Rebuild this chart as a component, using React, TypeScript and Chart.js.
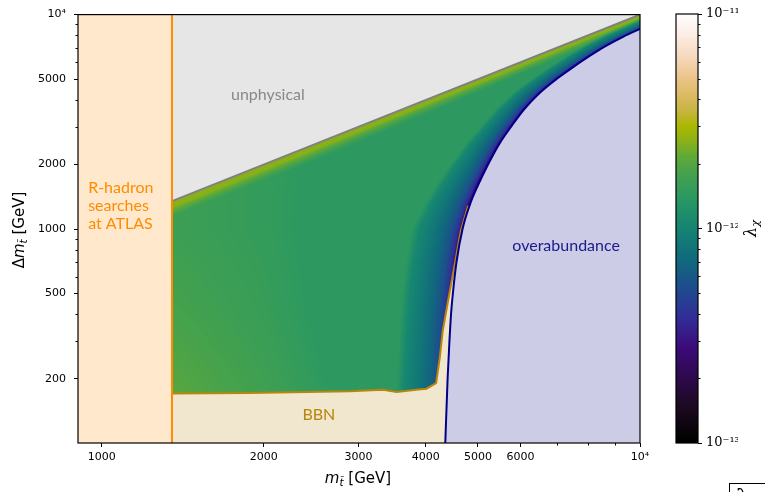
import React, { useEffect, useRef } from 'react';
import { Chart, registerables } from 'chart.js';

Chart.register(...registerables);

// ---------- axis ranges & ticks ----------
const X_MIN = 903;
const X_MAX = 10000;
const Y_MIN = 100.5;
const Y_MAX = 10000;
const LAMBDA_MIN = 1e-13;
const LAMBDA_MAX = 1e-11;

const xMajorTicks = [1000, 2000, 3000, 4000, 5000, 6000, 10000];
const xMinorTicks = [7000, 8000, 9000];
const yMajorTicks = [200, 500, 1000, 2000, 5000, 10000];
const yMinorTicks = [300, 400, 600, 700, 800, 900, 3000, 4000, 6000, 7000, 8000, 9000];
const cbMajorTicks = [1e-13, 1e-12, 1e-11];
const cbMinorTicks = [2e-13, 3e-13, 4e-13, 5e-13, 6e-13, 7e-13, 8e-13, 9e-13, 2e-12, 3e-12, 4e-12, 5e-12, 6e-12, 7e-12, 8e-12, 9e-12];

// ---------- region boundaries ----------
const rHadronLimit = 1350;
const unphysM = [1350, 10000];
const unphysDm = [1350, 10000];
const bbnM = [1350, 1880, 2890, 3330, 3530, 3840, 4010, 4180, 4245, 4300, 4400, 4539, 4645, 4793];
const bbnDm = [171, 172, 175, 178, 174, 178, 180, 191, 251, 336, 464, 712, 983, 1285];
const overM = [4346, 4390, 4425, 4455, 4490, 4560, 4680, 4830, 5000, 5220, 5480, 5760, 6080, 6500, 6990, 7489, 8050, 8661, 9320, 10000];
const overDm = [99, 200, 300, 400, 500, 700, 1000, 1300, 1600, 2000, 2500, 3000, 3600, 4300, 5000, 5660, 6400, 7167, 7900, 8576];

// ---------- lambda_chi field (log10 values) ----------
const lamGridM = [1350, 2000, 3000, 3600, 4000, 5000, 7000, 10000];
const lamGridDm = [150, 400, 1000, 3000, 10000];
const lamGrid = [
  [-11.68, -11.76, -11.88, -12.02, -12.14, -12.20, -12.20, -12.20],
  [-11.74, -11.80, -11.90, -12.00, -12.10, -12.16, -12.16, -12.16],
  [-11.78, -11.82, -11.90, -11.97, -12.04, -12.10, -12.10, -12.10],
  [-11.78, -11.82, -11.88, -11.92, -11.96, -12.00, -12.02, -12.02],
  [-11.78, -11.82, -11.88, -11.90, -11.92, -11.96, -11.98, -11.98],
];
// band just below the Δm = m line
const topDepth = [0, 0.005, 0.014, 0.023, 0.037, 0.056, 0.09];
const topLam = [-11.0, -11.16, -11.36, -11.54, -11.64, -11.72, -11.85];
const topScaleM = [1350, 3000, 10000];
const topScale = [1, 0.8, 0.5];
// band just left of the overabundance curve
const blueDepth = [0, 0.005, 0.01, 0.02, 0.035, 0.055, 0.08, 0.12];
const blueLam = [-12.7, -12.5, -12.38, -12.26, -12.16, -12.07, -11.98, -11.6];
const blueScaleDm = [100, 1000, 3000, 10000];
const blueScale = [1, 1, 0.6, 0.35];

// ---------- colour map (sampled from the colour bar) ----------
const cmapPos = [0, 0.08, 0.15, 0.22, 0.29, 0.36, 0.43, 0.5, 0.57, 0.63, 0.67, 0.71, 0.74, 0.77, 0.8, 0.85, 0.9, 0.95, 1];
const cmapHex = ['#000000', '#1a0a1e', '#2c0a4a', '#3c0a78', '#322c98', '#1e4c8e', '#106a7c', '#158472', '#2a9862', '#46a24c', '#62aa36', '#92b212', '#aab800', '#c4b43c', '#d6b858', '#ecc488', '#f6d8bc', '#fcece4', '#fefefe'];

const log10 = Math.log10;

function lerpArr(xs: number[], ys: number[], x: number, extrap = false): number {
  const n = xs.length;
  if (x <= xs[0]) {
    if (!extrap) return ys[0];
    const t = (x - xs[0]) / (xs[1] - xs[0]);
    return ys[0] + t * (ys[1] - ys[0]);
  }
  if (x >= xs[n - 1]) {
    if (!extrap) return ys[n - 1];
    const t = (x - xs[n - 2]) / (xs[n - 1] - xs[n - 2]);
    return ys[n - 2] + t * (ys[n - 1] - ys[n - 2]);
  }
  let i = 1;
  while (xs[i] < x) i++;
  const t = (x - xs[i - 1]) / (xs[i] - xs[i - 1]);
  return ys[i - 1] + t * (ys[i] - ys[i - 1]);
}

function hexRgb(h: string): number[] {
  return [parseInt(h.slice(1, 3), 16), parseInt(h.slice(3, 5), 16), parseInt(h.slice(5, 7), 16)];
}

function buildLut(): number[][] {
  const rgb = cmapHex.map(hexRgb);
  const lut: number[][] = [];
  for (let k = 0; k < 256; k++) {
    const n = k / 255;
    let i = 1;
    while (i < cmapPos.length - 1 && cmapPos[i] < n) i++;
    const t = (n - cmapPos[i - 1]) / (cmapPos[i] - cmapPos[i - 1]);
    lut.push([0, 1, 2].map((c) => Math.round(rgb[i - 1][c] + t * (rgb[i][c] - rgb[i - 1][c]))));
  }
  return lut;
}

function normLam(e: number): number {
  const n = (e - log10(LAMBDA_MIN)) / (log10(LAMBDA_MAX) - log10(LAMBDA_MIN));
  return Math.max(0, Math.min(1, n));
}

const heatmapPlugin = {
  id: 'heatmap',
  beforeDatasetsDraw(chart: any) {
    const { ctx, chartArea: ca, scales } = chart;
    const xs = scales.x;
    const ys = scales.y;
    const w = Math.round(ca.right - ca.left);
    const h = Math.round(ca.bottom - ca.top);
    const off = document.createElement('canvas');
    off.width = w;
    off.height = h;
    const octx = off.getContext('2d')!;
    const img = octx.createImageData(w, h);
    const lut = buildLut();
    const gxl = lamGridM.map(log10);
    const gyl = lamGridDm.map(log10);
    const oml = overM.map(log10);
    const odl = overDm.map(log10);
    const tsm = topScaleM.map(log10);
    const bsd = blueScaleDm.map(log10);
    const lrh = log10(rHadronLimit);
    const logM: number[] = [];
    for (let i = 0; i < w; i++) logM.push(log10(xs.getValueForPixel(ca.left + i + 0.5)));
    for (let j = 0; j < h; j++) {
      const ld = log10(ys.getValueForPixel(ca.top + j + 0.5));
      const row = gxl.map((_, c) => lerpArr(gyl, lamGrid.map((r) => r[c]), ld));
      const lmBlue = lerpArr(odl, oml, ld, true);
      const bs = lerpArr(bsd, blueScale, ld);
      for (let i = 0; i < w; i++) {
        const lm = logM[i];
        if (lm < lrh - 0.004) continue;
        const a = Math.max(0, lm - ld);
        const b = Math.max(0, lmBlue - lm);
        const base = lerpArr(gxl, row, lm);
        const ts = lerpArr(tsm, topScale, lm);
        let e = Math.max(base, lerpArr(topDepth, topLam, a / ts));
        e = Math.min(e, lerpArr(blueDepth, blueLam, b / bs));
        const col = lut[Math.round(normLam(e) * 255)];
        const p = (j * w + i) * 4;
        img.data[p] = col[0];
        img.data[p + 1] = col[1];
        img.data[p + 2] = col[2];
        img.data[p + 3] = 255;
      }
    }
    octx.putImageData(img, 0, 0);
    ctx.drawImage(off, ca.left, ca.top);
  },
};

function drawParts(ctx: CanvasRenderingContext2D, parts: any[], size: number, family: string, cx: number, cy: number) {
  const fontOf = (p: any) => `${p.italic ? 'italic ' : ''}${p.sub ? size * 0.7 : size}px ${family}`;
  let total = 0;
  const widths = parts.map((p) => {
    ctx.font = fontOf(p);
    const wd = ctx.measureText(p.t).width;
    total += wd;
    return wd;
  });
  let x = cx - total / 2;
  ctx.textBaseline = 'middle';
  ctx.textAlign = 'left';
  parts.forEach((p, k) => {
    ctx.font = fontOf(p);
    ctx.fillText(p.t, x, cy + (p.sub ? size * 0.28 : 0));
    x += widths[k];
  });
}

const overlayPlugin = {
  id: 'overlay',
  afterDatasetsDraw(chart: any) {
    const { ctx, chartArea: ca, scales } = chart;
    const xs = scales.x;
    const ys = scales.y;
    ctx.save();
    // minor ticks
    ctx.strokeStyle = '#000';
    ctx.lineWidth = 1;
    ctx.beginPath();
    xMinorTicks.forEach((v) => {
      const px = Math.round(xs.getPixelForValue(v)) + 0.5;
      ctx.moveTo(px, ca.bottom);
      ctx.lineTo(px, ca.bottom + 2.5);
    });
    yMinorTicks.forEach((v) => {
      const py = Math.round(ys.getPixelForValue(v)) + 0.5;
      ctx.moveTo(ca.left, py);
      ctx.lineTo(ca.left - 2.5, py);
    });
    ctx.stroke();
    // frame
    ctx.lineWidth = 1.2;
    ctx.strokeRect(ca.left, ca.top, ca.right - ca.left, ca.bottom - ca.top);

    // region labels
    const lab = (t: string, m: number, dm: number, color: string, align: CanvasTextAlign = 'center') => {
      ctx.font = '16px Lato';
      ctx.fillStyle = color;
      ctx.textAlign = align;
      ctx.textBaseline = 'middle';
      ctx.fillText(t, xs.getPixelForValue(m), ys.getPixelForValue(dm));
    };
    lab('unphysical', 2035, 4236, '#888888');
    lab('overabundance', 7290, 837, '#1a1a8c');
    lab('BBN', 2531, 136, '#b8860b');
    lab('R-hadron', 943, 1559, '#ff8c00', 'left');
    lab('searches', 943, 1285, '#ff8c00', 'left');
    lab('at ATLAS', 943, 1059, '#ff8c00', 'left');

    // axis titles
    ctx.fillStyle = '#000';
    drawParts(ctx, [{ t: 'm', italic: true }, { t: 't\u0303', italic: true, sub: true }, { t: ' [GeV]' }], 15, 'DejaVu Sans', 358, 479);
    ctx.save();
    ctx.translate(20, 230);
    ctx.rotate(-Math.PI / 2);
    drawParts(ctx, [{ t: '\u0394' }, { t: 'm', italic: true }, { t: 't\u0303', italic: true, sub: true }, { t: ' [GeV]' }], 15, 'DejaVu Sans', 0, 0);
    ctx.restore();
    ctx.restore();
  },
};

const colorbarPlugin = {
  id: 'colorbar',
  beforeDatasetsDraw(chart: any) {
    const { ctx, chartArea: ca, scales } = chart;
    const ys = scales.y;
    const lut = buildLut();
    for (let py = Math.floor(ca.top); py < Math.ceil(ca.bottom); py++) {
      const v = ys.getValueForPixel(py + 0.5);
      const col = lut[Math.round(normLam(log10(v)) * 255)];
      ctx.fillStyle = `rgb(${col[0]},${col[1]},${col[2]})`;
      ctx.fillRect(ca.left, py, ca.right - ca.left, 1);
    }
  },
  afterDraw(chart: any) {
    const { ctx, chartArea: ca, scales } = chart;
    const ys = scales.y;
    ctx.save();
    ctx.strokeStyle = '#000';
    ctx.lineWidth = 1;
    ctx.beginPath();
    cbMinorTicks.forEach((v) => {
      const py = Math.round(ys.getPixelForValue(v)) + 0.5;
      ctx.moveTo(ca.right, py);
      ctx.lineTo(ca.right + 2.5, py);
    });
    ctx.stroke();
    ctx.lineWidth = 1.2;
    ctx.strokeRect(ca.left, ca.top, ca.right - ca.left, ca.bottom - ca.top);
    // colour bar title
    ctx.fillStyle = '#000';
    ctx.translate(92, (ca.top + ca.bottom) / 2);
    ctx.rotate(-Math.PI / 2);
    drawParts(ctx, [{ t: '\u03bb', italic: true }, { t: '\u03c7', italic: true, sub: true }], 16, 'DejaVu Serif', 0, 0);
    ctx.restore();
  },
};

const SUP: Record<string, string> = { '-': '\u207b', '0': '\u2070', '1': '\u00b9', '2': '\u00b2', '3': '\u00b3', '4': '\u2074', '5': '\u2075', '6': '\u2076', '7': '\u2077', '8': '\u2078', '9': '\u2079' };
const powLabel = (v: number) => '10' + String(Math.round(log10(v))).split('').map((c) => SUP[c]).join('');
const tickLabel = (v: number) => (v === 10000 ? powLabel(v) : String(v));

export default function App() {
  const mainRef = useRef<HTMLCanvasElement>(null);
  const cbRef = useRef<HTMLCanvasElement>(null);

  useEffect(() => {
    const pts = (xs: number[], ys: number[]) => xs.map((x, i) => ({ x, y: ys[i] }));
    const main = new Chart(mainRef.current!, {
      type: 'scatter',
      data: {
        datasets: [
          { data: [{ x: rHadronLimit, y: Y_MIN }, { x: rHadronLimit, y: Y_MAX }], showLine: true, borderColor: '#ff8c00', borderWidth: 2, fill: false, order: 1 },
          { data: [{ x: X_MIN, y: Y_MAX }, { x: rHadronLimit, y: Y_MAX }], showLine: true, borderWidth: 0, borderColor: 'rgba(0,0,0,0)', backgroundColor: '#ffe8cc', fill: 'start', order: 2 },
          { data: pts(overM, overDm), showLine: true, cubicInterpolationMode: 'monotone', borderColor: '#00008b', borderWidth: 2, backgroundColor: '#cccce6', fill: 'start', order: 3 },
          { data: pts(bbnM, bbnDm), showLine: true, borderColor: '#b8860b', borderWidth: 2, backgroundColor: '#f1e7ce', fill: 'start', order: 4 },
          { data: pts(unphysM, unphysDm), showLine: true, borderColor: '#808080', borderWidth: 2, backgroundColor: '#e6e6e6', fill: 'end', order: 5 },
        ] as any,
      },
      options: {
        animation: false,
        responsive: false,
        maintainAspectRatio: false,
        events: [],
        layout: { padding: { left: 0, right: 20, top: 14, bottom: 0 } },
        elements: { point: { radius: 0 }, line: { tension: 0 } },
        plugins: { legend: { display: false }, tooltip: { enabled: false } },
        scales: {
          x: {
            type: 'logarithmic',
            min: X_MIN,
            max: X_MAX,
            bounds: 'data',
            afterBuildTicks: (s: any) => { s.ticks = xMajorTicks.map((v) => ({ value: v })); },
            afterFit: (s: any) => { s.height = 49; },
            grid: { drawOnChartArea: false, drawTicks: true, tickLength: 4, tickColor: '#000', tickWidth: 1 },
            border: { display: false },
            ticks: { autoSkip: false, maxRotation: 0, padding: 4, color: '#000', font: { family: 'DejaVu Sans', size: 11 }, callback: (v: any) => tickLabel(Number(v)) },
          },
          y: {
            type: 'logarithmic',
            min: Y_MIN,
            max: Y_MAX,
            bounds: 'data',
            afterBuildTicks: (s: any) => { s.ticks = yMajorTicks.map((v) => ({ value: v })); },
            afterFit: (s: any) => { s.width = 78; },
            grid: { drawOnChartArea: false, drawTicks: true, tickLength: 4, tickColor: '#000', tickWidth: 1 },
            border: { display: false },
            ticks: { autoSkip: false, padding: 8, color: '#000', font: { family: 'DejaVu Sans', size: 11 }, callback: (v: any) => tickLabel(Number(v)) },
          },
        },
      } as any,
      plugins: [heatmapPlugin, overlayPlugin],
    });

    const cb = new Chart(cbRef.current!, {
      type: 'scatter',
      data: { datasets: [] },
      options: {
        animation: false,
        responsive: false,
        maintainAspectRatio: false,
        events: [],
        layout: { padding: { left: 16, right: 27, top: 14, bottom: 49 } },
        plugins: { legend: { display: false }, tooltip: { enabled: false } },
        scales: {
          x: { display: false, min: 0, max: 1 },
          y: {
            type: 'logarithmic',
            position: 'right',
            min: LAMBDA_MIN,
            max: LAMBDA_MAX,
            bounds: 'data',
            afterBuildTicks: (s: any) => { s.ticks = cbMajorTicks.map((v) => ({ value: v })); },
            afterFit: (s: any) => { s.width = 40; },
            grid: { drawOnChartArea: false, drawTicks: true, tickLength: 4, tickColor: '#000', tickWidth: 1 },
            border: { display: false },
            ticks: { autoSkip: false, padding: 4, color: '#000', font: { family: 'DejaVu Serif', size: 13 }, callback: (v: any) => powLabel(Number(v)) },
          },
        },
      } as any,
      plugins: [colorbarPlugin],
    });

    return () => {
      main.destroy();
      cb.destroy();
    };
  }, []);

  return (
    <div style={{ position: 'fixed', left: 0, top: 0, width: 765, height: 492, background: '#fff', overflow: 'hidden' }}>
      <canvas ref={mainRef} width={660} height={492} style={{ position: 'absolute', left: 0, top: 0 }} />
      <canvas ref={cbRef} width={105} height={492} style={{ position: 'absolute', left: 660, top: 0 }} />
      <div style={{ position: 'absolute', left: 729, top: 483, width: 60, height: 30, border: '1.5px solid #000', boxSizing: 'border-box', fontFamily: 'DejaVu Serif', fontSize: 22, lineHeight: '22px', paddingLeft: 6, paddingTop: 3 }}>λ</div>
    </div>
  );
}
